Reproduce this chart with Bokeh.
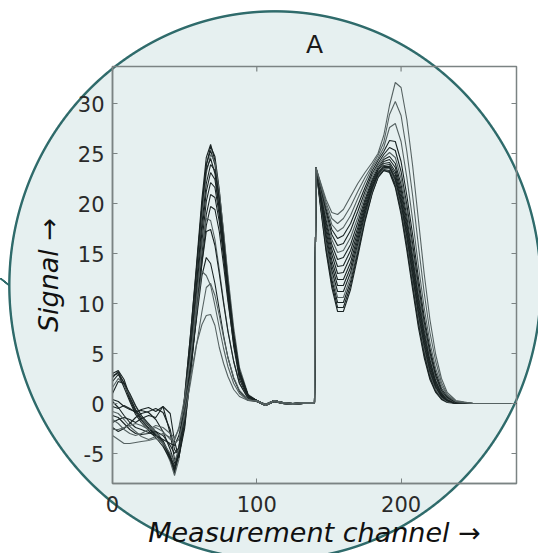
import numpy as np
from bokeh.plotting import figure
from bokeh.models import Range1d, FixedTicker, ColumnDataSource
from bokeh.embed import file_html
from bokeh.resources import INLINE

# ---------------- data ----------------
channels_a = [0, 4, 8, 12, 16, 20, 25, 30, 35, 40, 43, 46, 50, 54, 58, 62, 65, 68,
              71, 74, 77, 80, 84, 88, 94, 100, 106, 112, 118, 125, 132, 140]
channels_b = [141, 144, 148, 152, 156, 160, 165, 170, 175, 180, 184, 188, 192, 196,
              200, 204, 208, 212, 216, 220, 224, 228, 232, 238, 250, 280]

signal_a = [
    [2.6, 3.2, 2.0, 0.4, -0.9, -1.7, -2.5, -3.2, -4.0, -5.6, -6.8, -4.6, 0.6, 6.8, 13.5, 20.5, 24.6, 25.9, 24.3, 20.6, 16.0, 11.4, 6.2, 2.7, 0.6, 0.3, -0.2, 0.3, 0.1, -0.1, 0.1, 0.1],
    [3.0, 3.3, 2.4, 0.7, -0.7, -1.6, -2.4, -3.1, -3.9, -5.3, -6.6, -5.2, -0.6, 5.4, 12.2, 19.4, 23.8, 25.7, 24.7, 21.4, 17.0, 12.4, 7.0, 3.2, 0.8, 0.3, -0.1, 0.3, 0.1, 0.0, 0.1, 0.1],
    [2.2, 2.9, 2.1, 0.6, -0.6, -1.4, -2.2, -3.0, -3.8, -5.5, -7.0, -5.0, 0.0, 6.0, 12.8, 19.8, 23.9, 25.3, 23.9, 20.4, 16.0, 11.6, 6.6, 3.0, 0.7, 0.2, -0.2, 0.2, 0.0, -0.1, 0.0, 0.0],
    [1.6, 2.5, 1.9, 0.8, -0.3, -1.2, -2.1, -3.0, -4.1, -5.8, -7.2, -5.6, -0.8, 5.0, 11.8, 18.8, 23.0, 24.9, 24.2, 21.2, 17.2, 12.8, 7.6, 3.6, 0.9, 0.3, -0.2, 0.3, 0.1, -0.1, 0.1, 0.1],
    [2.8, 3.0, 1.6, 0.2, -1.1, -1.9, -2.7, -3.4, -4.3, -5.6, -6.5, -4.4, 0.8, 6.8, 13.2, 19.8, 23.4, 24.5, 23.0, 19.4, 15.0, 10.6, 5.7, 2.4, 0.5, 0.2, -0.2, 0.2, 0.0, -0.1, 0.0, 0.0],
    [1.0, 2.2, 2.0, 1.0, -0.2, -1.2, -2.0, -2.8, -3.7, -5.2, -6.3, -5.0, -0.5, 5.2, 11.6, 18.0, 22.0, 23.9, 23.3, 20.4, 16.4, 12.0, 7.0, 3.3, 0.8, 0.3, -0.1, 0.3, 0.1, 0.0, 0.1, 0.1],
    [0.4, 0.2, -0.3, -0.6, -0.8, -0.7, -0.9, -1.6, -2.8, -4.6, -6.0, -5.2, -1.0, 4.6, 10.8, 17.2, 21.2, 23.1, 22.4, 19.4, 15.4, 11.2, 6.4, 3.0, 0.7, 0.2, -0.2, 0.2, 0.0, -0.1, 0.0, 0.0],
    [-0.3, -0.5, -0.2, -0.5, -0.9, -0.6, -0.4, -0.8, -0.3, -3.0, -5.6, -5.4, -1.8, 3.8, 10.0, 16.2, 20.2, 22.1, 21.6, 18.8, 15.0, 11.0, 6.4, 3.1, 0.8, 0.3, -0.1, 0.3, 0.1, 0.0, 0.1, 0.1],
    [-1.9, -1.6, -1.4, -1.6, -1.9, -1.5, -1.2, -1.4, -0.3, -1.0, -3.8, -5.4, -2.5, 2.8, 8.8, 15.0, 18.9, 20.9, 20.6, 18.2, 14.6, 10.8, 6.4, 3.1, 0.8, 0.3, -0.2, 0.2, 0.0, -0.1, 0.0, 0.0],
    [-2.4, -2.8, -2.5, -2.0, -1.4, -1.0, -0.8, -0.5, -0.9, -2.6, -4.6, -5.2, -2.2, 2.8, 8.4, 14.2, 17.8, 19.7, 19.4, 17.2, 13.8, 10.2, 6.0, 2.9, 0.7, 0.3, -0.1, 0.3, 0.1, 0.0, 0.1, 0.1],
    [-3.2, -3.6, -4.0, -4.0, -3.9, -3.8, -3.7, -3.5, -3.9, -5.0, -5.8, -4.6, -0.6, 4.4, 10.0, 15.8, 18.5, 18.3, 16.4, 13.4, 10.2, 7.3, 4.2, 2.0, 0.5, 0.2, -0.2, 0.2, 0.0, -0.1, 0.0, 0.0],
    [-1.2, -1.4, -2.0, -2.6, -3.0, -3.1, -3.0, -2.8, -3.2, -4.2, -5.0, -4.4, -1.2, 3.4, 8.6, 14.0, 17.2, 17.4, 15.8, 13.0, 10.0, 7.2, 4.2, 2.0, 0.5, 0.3, -0.1, 0.3, 0.1, 0.0, 0.1, 0.1],
    [0.2, -0.4, -1.2, -1.9, -2.4, -2.6, -2.9, -3.2, -3.6, -4.0, -4.2, -3.2, -0.4, 3.6, 8.2, 12.8, 14.6, 14.0, 12.0, 9.4, 6.8, 4.6, 2.5, 1.2, 0.3, 0.2, -0.2, 0.2, 0.0, -0.1, 0.0, 0.0],
    [-2.6, -2.6, -2.4, -2.2, -2.0, -2.2, -2.6, -2.4, -2.8, -3.6, -3.7, -2.4, 0.6, 4.6, 9.0, 13.2, 12.8, 11.8, 9.8, 7.6, 5.5, 3.7, 2.0, 1.0, 0.3, 0.3, -0.1, 0.3, 0.1, 0.0, 0.1, 0.1],
    [-0.8, -1.0, -1.6, -2.3, -2.8, -3.3, -3.6, -3.3, -3.0, -3.4, -4.0, -3.6, -1.2, 2.0, 5.6, 9.2, 11.6, 12.0, 10.8, 8.8, 6.6, 4.6, 2.6, 1.3, 0.4, 0.2, -0.2, 0.2, 0.0, -0.1, 0.0, 0.0],
    [-1.6, -2.0, -2.6, -3.0, -3.2, -3.0, -2.6, -2.2, -2.4, -3.0, -3.4, -2.6, -0.2, 2.6, 5.8, 7.9, 8.8, 8.9, 7.8, 5.6, 4.0, 2.7, 1.4, 0.7, 0.3, 0.3, -0.1, 0.3, 0.1, 0.0, 0.1, 0.1],
]

signal_b = [
    [23.6, 19.8, 15.2, 11.6, 9.2, 9.2, 11.4, 14.7, 18.2, 21.0, 22.6, 23.3, 23.1, 21.6, 18.9, 15.3, 11.4, 7.6, 4.6, 2.4, 1.1, 0.4, 0.1, 0.0, 0.0, 0.0],
    [23.6, 20.0, 15.5, 12.0, 9.6, 9.6, 11.8, 15.0, 18.4, 21.1, 22.6, 23.3, 23.2, 21.8, 19.2, 15.7, 11.8, 8.0, 4.9, 2.6, 1.2, 0.5, 0.2, 0.0, 0.0, 0.0],
    [23.5, 20.2, 15.8, 12.4, 10.1, 10.1, 12.2, 15.3, 18.6, 21.2, 22.7, 23.4, 23.3, 22.0, 19.5, 16.0, 12.1, 8.3, 5.2, 2.8, 1.3, 0.5, 0.2, 0.0, 0.0, 0.0],
    [23.6, 20.4, 16.1, 12.8, 10.6, 10.6, 12.6, 15.6, 18.8, 21.3, 22.8, 23.5, 23.5, 22.2, 19.8, 16.4, 12.5, 8.7, 5.5, 3.0, 1.4, 0.6, 0.2, 0.0, 0.0, 0.0],
    [23.5, 20.6, 16.5, 13.3, 11.2, 11.2, 13.1, 16.0, 19.0, 21.5, 22.9, 23.6, 23.6, 22.4, 20.0, 16.7, 12.8, 9.0, 5.8, 3.2, 1.6, 0.7, 0.3, 0.0, 0.0, 0.0],
    [23.6, 20.8, 16.9, 13.8, 11.8, 11.8, 13.6, 16.4, 19.3, 21.6, 23.0, 23.7, 23.7, 22.6, 20.3, 17.0, 13.2, 9.3, 6.1, 3.4, 1.7, 0.7, 0.3, 0.0, 0.0, 0.0],
    [23.5, 21.0, 17.3, 14.3, 12.4, 12.4, 14.1, 16.8, 19.5, 21.8, 23.1, 23.8, 23.9, 22.9, 20.6, 17.4, 13.6, 9.7, 6.4, 3.7, 1.9, 0.8, 0.3, 0.0, 0.0, 0.0],
    [23.6, 21.2, 17.7, 14.9, 13.0, 13.1, 14.7, 17.2, 19.8, 22.0, 23.3, 24.0, 24.1, 23.2, 21.0, 17.8, 14.0, 10.1, 6.7, 3.9, 2.0, 0.9, 0.4, 0.0, 0.0, 0.0],
    [23.6, 21.4, 18.1, 15.4, 13.7, 13.8, 15.3, 17.6, 20.1, 22.2, 23.4, 24.2, 24.4, 23.6, 21.4, 18.2, 14.4, 10.5, 7.0, 4.2, 2.2, 1.0, 0.4, 0.1, 0.0, 0.0],
    [23.5, 21.5, 18.4, 15.9, 14.4, 14.6, 15.9, 18.1, 20.4, 22.4, 23.6, 24.4, 24.7, 24.0, 21.9, 18.7, 14.8, 10.9, 7.4, 4.4, 2.3, 1.1, 0.5, 0.1, 0.0, 0.0],
    [23.6, 21.6, 18.8, 16.4, 15.1, 15.3, 16.6, 18.6, 20.8, 22.7, 23.8, 24.6, 25.1, 24.6, 22.5, 19.3, 15.4, 11.4, 7.8, 4.8, 2.6, 1.2, 0.5, 0.1, 0.0, 0.0],
    [23.5, 21.8, 19.2, 16.9, 15.8, 16.0, 17.3, 19.2, 21.2, 23.0, 24.0, 24.9, 25.6, 25.3, 23.2, 19.9, 16.0, 11.9, 8.2, 5.1, 2.8, 1.3, 0.6, 0.1, 0.0, 0.0],
    [23.6, 21.9, 19.5, 17.4, 16.5, 16.8, 18.0, 19.8, 21.6, 23.3, 24.3, 25.2, 26.3, 26.2, 24.2, 20.8, 16.9, 12.6, 8.7, 5.5, 3.1, 1.5, 0.7, 0.2, 0.0, 0.0],
    [23.6, 22.0, 19.8, 17.9, 17.2, 17.6, 18.8, 20.5, 22.1, 23.6, 24.5, 25.6, 27.6, 28.0, 26.2, 22.6, 18.4, 13.8, 9.6, 6.1, 3.5, 1.8, 0.8, 0.2, 0.0, 0.0],
    [23.5, 22.1, 20.1, 18.5, 18.0, 18.5, 19.7, 21.2, 22.6, 23.8, 24.8, 26.1, 28.9, 30.2, 28.8, 25.2, 20.8, 15.8, 11.1, 7.1, 4.2, 2.1, 0.9, 0.2, 0.0, 0.0],
    [23.6, 22.2, 20.4, 19.1, 18.9, 19.4, 20.7, 22.0, 23.1, 24.1, 25.0, 26.8, 29.8, 32.1, 31.6, 28.4, 23.8, 18.4, 13.0, 8.4, 4.9, 2.5, 1.1, 0.3, 0.0, 0.0],
]

x_ticks = [0, 100, 200]
y_ticks = [-5, 0, 5, 10, 15, 20, 25, 30]
title_text = "A"
x_label = "Measurement channel \u2192"
y_label = "Signal \u2192"

# ---------------- layout ----------------
W, H = 538, 553
FL, FR, FT, FB = 112, 516, 66, 483          # frame edges in canvas px
X0, X1, Y0, Y1 = 0, 280, -8, 33.7
FONT = "DejaVu Sans"
AXIS_COL = "#7b8383"
TICK_PX = 5

p = figure(width=W, height=H, x_range=Range1d(X0, X1), y_range=Range1d(Y0, Y1),
           output_backend="svg", toolbar_location=None,
           min_border_left=FL, min_border_right=W - FR,
           min_border_top=FT, min_border_bottom=H - FB)
p.xgrid.visible = False
p.ygrid.visible = False
p.background_fill_color = None
p.border_fill_color = None
p.outline_line_color = AXIS_COL
p.outline_line_width = 1.5

# backdrop disc and the short connector stroke at the left edge (behind the transparent canvas)
disc = ("radial-gradient(266px 274.5px at 275px 285.5px, "
        "#e6f0f0 0%, #e6f0f0 99.25%, #2f6b6b 99.6%, #2f6b6b 100.15%, "
        "rgba(255,255,255,0) 100.5%)")
stroke = ("linear-gradient(to top right, rgba(255,255,255,0) 40%, #2f6b6b 44%, "
          "#2f6b6b 56%, rgba(255,255,255,0) 60%)")
p.styles = {
    "background-image": stroke + ", " + disc,
    "background-size": "10px 8px, 100% 100%",
    "background-position": "0px 278px, 0px 0px",
    "background-repeat": "no-repeat, no-repeat",
}

# curves
xs, ys, cols = [], [], []
for i, (a, b) in enumerate(zip(signal_a, signal_b)):
    xs.append(channels_a + channels_b)
    ys.append(a + b)
    cols.append("#566262" if i in (3, 10, 13, 14, 15) else "#1a2424")
src = ColumnDataSource(dict(xs=xs, ys=ys, color=cols))
p.multi_line("xs", "ys", source=src, line_color="color", line_width=1.1)

# mirrored inward ticks on top and right
xpx = (X1 - X0) / (FR - FL)
ypx = (Y1 - Y0) / (FB - FT)
p.segment(x0=x_ticks, x1=x_ticks, y0=[Y1] * len(x_ticks), y1=[Y1 - TICK_PX * ypx] * len(x_ticks),
          line_color=AXIS_COL, line_width=1.2)
p.segment(x0=[X1] * len(y_ticks), x1=[X1 - TICK_PX * xpx] * len(y_ticks), y0=y_ticks, y1=y_ticks,
          line_color=AXIS_COL, line_width=1.2)

# axes styling
for ax in (p.xaxis[0], p.yaxis[0]):
    ax.axis_line_color = AXIS_COL
    ax.axis_line_width = 1.5
    ax.major_tick_line_color = AXIS_COL
    ax.major_tick_in = TICK_PX
    ax.major_tick_out = 0
    ax.minor_tick_in = 0
    ax.minor_tick_out = 0
    ax.major_label_text_font = FONT
    ax.major_label_text_font_size = "21px"
    ax.major_label_text_color = "#2a2a2a"
    ax.axis_label_text_font = FONT
    ax.axis_label_text_font_style = "italic"
    ax.axis_label_text_font_size = "27px"
    ax.axis_label_text_color = "#111111"
p.xaxis.ticker = FixedTicker(ticks=x_ticks)
p.yaxis.ticker = FixedTicker(ticks=y_ticks)
p.yaxis.major_label_overrides = {t: ("-%d" % -t if t < 0 else "%d" % t) for t in y_ticks}
p.xaxis.major_label_standoff = 12
p.yaxis.major_label_standoff = 8
p.xaxis.axis_label = x_label
p.yaxis.axis_label = y_label
p.xaxis.axis_label_standoff = 2
p.yaxis.axis_label_standoff = 11

p.title.text = title_text
p.title.align = "center"
p.title.text_font = FONT
p.title.text_font_style = "normal"
p.title.text_font_size = "25px"
p.title.text_color = "#1a1a1a"
p.title.standoff = 15

open("out.html", "w").write(file_html(p, INLINE))
